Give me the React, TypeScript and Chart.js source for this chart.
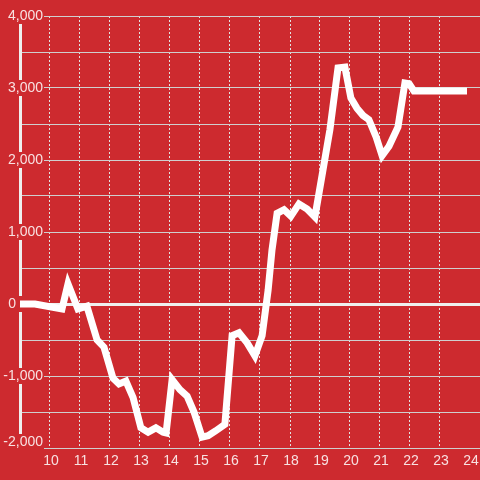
import { useEffect, useRef } from "react";
import { Chart, registerables } from "chart.js";

Chart.register(...registerables);

// Hour of day (decimal) and value
const hours = [
  9.0, 9.5, 10.4, 10.6, 10.93, 11.23, 11.57, 11.8, 12.1, 12.3, 12.53, 12.77,
  13.03, 13.27, 13.53, 13.77, 13.87, 14.07, 14.33, 14.57, 14.8, 15.07, 15.27,
  15.53, 15.83, 16.07, 16.3, 16.57, 16.83, 17.07, 17.27, 17.4, 17.57, 17.8,
  18.03, 18.3, 18.57, 18.83, 19.07, 19.33, 19.6, 19.83, 20.03, 20.23, 20.43,
  20.63, 20.87, 21.07, 21.3, 21.6, 21.83, 21.97, 22.13, 23.9,
];
const values = [
  0, 0, -70, 280, -70, -30, -500, -600, -1030, -1110, -1070, -1300,
  -1720, -1780, -1720, -1780, -1790, -1050, -1190, -1280, -1500, -1850, -1830,
  -1760, -1670, -440, -400, -540, -720, -440, 190, 750, 1260, 1310,
  1220, 1390, 1320, 1210, 1790, 2420, 3280, 3290, 2860, 2720, 2620,
  2560, 2320, 2060, 2190, 2460, 3070, 3060, 2960, 2960,
];
const yTickValues = [-2000, -1000, 0, 1000, 2000, 3000, 4000];
const xTickValues = [10, 11, 12, 13, 14, 15, 16, 17, 18, 19, 20, 21, 22, 23, 24];

const BG = "#cd2a2f";
const TEXT = "rgba(255,255,255,0.86)";
const FONT = '14px "Liberation Sans", Arial, sans-serif';

const bgPlugin = {
  id: "bg",
  beforeDraw(chart: any) {
    const ctx = chart.ctx;
    ctx.save();
    ctx.fillStyle = BG;
    ctx.fillRect(0, 0, chart.width, chart.height);
    ctx.restore();
  },
};

const labelPlugin = {
  id: "labels",
  beforeDatasetsDraw(chart: any) {
    const ctx = chart.ctx;
    const y = chart.scales.y;
    ctx.save();
    ctx.font = FONT;
    ctx.textBaseline = "middle";
    for (const v of yTickValues) {
      let py = y.getPixelForValue(v);
      if (py > chart.chartArea.bottom - 8) py = chart.chartArea.bottom - 6;
      ctx.fillStyle = BG;
      ctx.fillRect(0, py - 8, 44, 16);
      ctx.fillStyle = TEXT;
      if (v === 0) {
        ctx.textAlign = "right";
        ctx.fillText("0", 16, py);
      } else {
        ctx.textAlign = "right";
        ctx.fillText(v.toLocaleString("en-US"), 43, py);
      }
    }
    ctx.restore();
  },
  afterDraw(chart: any) {
    const ctx = chart.ctx;
    const x = chart.scales.x;
    ctx.save();
    ctx.font = FONT;
    ctx.textBaseline = "middle";
    ctx.textAlign = "center";
    ctx.fillStyle = TEXT;
    for (const h of xTickValues) {
      ctx.fillText(String(h), x.getPixelForValue(h) + 1, 461);
    }
    ctx.restore();
  },
};

export default function App() {
  const ref = useRef<HTMLCanvasElement | null>(null);
  useEffect(() => {
    document.body.style.margin = "0";
    const canvas = ref.current;
    if (!canvas) return;
    const chart = new Chart(canvas, {
      type: "line",
      data: {
        datasets: [
          {
            data: hours.map((h, i) => ({ x: h, y: values[i] })),
            borderColor: "#ffffff",
            borderWidth: 7,
            pointRadius: 0,
            tension: 0,
            fill: false,
            borderCapStyle: "butt",
          },
        ],
      },
      options: {
        responsive: false,
        animation: false,
        events: [],
        layout: { padding: { left: 20, top: 16, right: 0, bottom: 32 } },
        plugins: { legend: { display: false }, tooltip: { enabled: false } },
        scales: {
          x: {
            type: "linear",
            min: 9,
            max: 9 + 460 / 30,
            ticks: { display: false, stepSize: 1 },
            grid: {
              drawTicks: false,
              color: (c: any) =>
                c.tick && Number.isInteger(c.tick.value) && c.tick.value > 9
                  ? "#e2e2e2"
                  : "rgba(0,0,0,0)",
              lineWidth: 1,
            },
            border: { display: true, color: "#cfcfcf", width: 1, dash: [2, 2] },
          },
          y: {
            type: "linear",
            min: -2000,
            max: 4000,
            ticks: { display: false, stepSize: 500 },
            grid: {
              drawTicks: false,
              color: (c: any) => (c.tick && c.tick.value === 0 ? "#efefef" : "#cfcfcf"),
              lineWidth: (c: any) => (c.tick && c.tick.value === 0 ? 3 : 1),
            },
            border: { display: true, color: "#efefef", width: 3 },
          },
        },
      },
      plugins: [bgPlugin, labelPlugin],
    } as any);
    return () => chart.destroy();
  }, []);
  return (
    <div style={{ width: 480, height: 480 }}>
      <canvas ref={ref} width={480} height={480} />
    </div>
  );
}
